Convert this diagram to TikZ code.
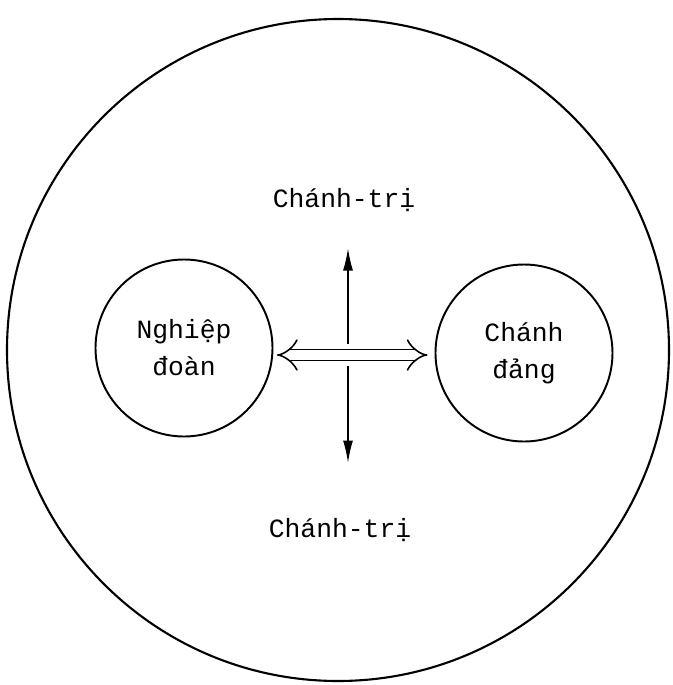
\documentclass[tikz,border=0pt]{standalone}
\usepackage{fontspec}
\setmainfont{Liberation Mono}
\usepackage{tikz}
\usetikzlibrary{arrows.meta,positioning,calc}

\begin{document}
\begin{tikzpicture}[
    outer/.style={circle, draw=black, line width=1.2pt, minimum size=13.24cm, inner sep=0pt},
    unit/.style={circle, draw=black, line width=1.1pt, minimum size=3.54cm, align=center, inner sep=0pt, font=\fontsize{15}{21}\selectfont},
    lbl/.style={font=\fontsize{15}{18}\selectfont},
    vert/.style={{Latex[length=4.5mm,width=2mm]}-{Latex[length=4.5mm,width=2mm]}, line width=1pt},
    dbl/.style={{Implies}-{Implies}, double, double distance=5.5pt, line width=0.9pt, shorten <=2pt, shorten >=4pt, preaction={draw=white, line width=13pt, shorten <=20pt, shorten >=20pt}}
]
    \useasboundingbox (0,0) rectangle (13.44,-13.7);
    \node [outer] (whole) at (6.76,-7.0) {};
    \node [unit] (ngh) at (3.68,-6.96) {Nghiệp\\đoàn};
    \node [unit] (chd) at (10.48,-7.06) {Chánh\\đảng};

    \node [lbl] (ttop) at (6.88,-4.0) {Chánh-trị};
    \node [lbl] (tbot) at (6.8,-10.6) {Chánh-trị};

    \coordinate (vtop) at (6.96,-4.96);
    \coordinate (vbot) at (6.96,-9.26);
    \coordinate (mid) at (6.96,-7.1);

    \draw [vert] (vtop) -- (vbot);
    \draw [dbl] (ngh.east |- mid) -- (chd.west |- mid);
\end{tikzpicture}
\end{document}
